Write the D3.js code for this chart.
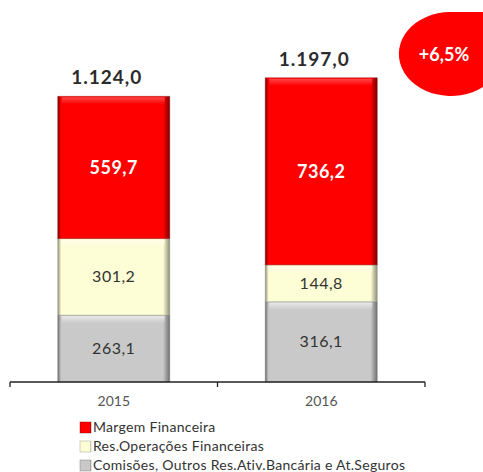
<!DOCTYPE html>
<html>
<head>
<meta charset="utf-8">
<script src="https://cdn.jsdelivr.net/npm/d3@7"></script>
<style>
  body { margin: 0; background: #fff; }
  svg { display: block; font-family: Lato, "Liberation Sans", sans-serif; }
</style>
</head>
<body>
<svg width="483" height="472"></svg>
<script>
const d3 = window.d3

// data
let years = ['2015', '2016']
let seriesNames = [
  'Comisões, Outros Res.Ativ.Bancária e At.Seguros',
  'Res.Operações Financeiras',
  'Margem Financeira'
]
let comissoes = [263.1, 316.1]
let resOperacoes = [301.2, 144.8]
let margem = [559.7, 736.2]
let totals = [1124.0, 1197.0]
let growthLabel = '+6,5%'

let width = 483
let height = 472

let svg = d3.select('svg')
  .attr('width', width)
  .attr('height', height)

let fmt = v => {
  let s = d3.format(',.1f')(v)
  return s.replace(/,/g, 'X').replace('.', ',').replace(/X/g, '.')
}

let rows = years.map((y, i) => ({
  year: y,
  c: comissoes[i],
  r: resOperacoes[i],
  m: margem[i]
}))

let stack = d3.stack().keys(['c', 'r', 'm'])(rows)

let xScale = d3.scaleBand()
  .domain(years)
  .range([10, 425])
  .paddingInner(0.46)
  .paddingOuter(0.23)

let yScale = d3.scaleLinear()
  .domain([0, 1200])
  .range([382, 77])

// colours: base, light edge, dark edge
let colors = {
  c: ['#c9c9c9', '#ececec', '#6e6e6e'],
  r: ['#fdfdd6', '#ffffee', '#8d8d78'],
  m: ['#ff0000', '#ff4d4d', '#7a0000']
}
let labelColor = { c: '#333', r: '#333', m: '#fff' }

let defs = svg.append('defs')
Object.keys(colors).forEach(k => {
  let g = defs.append('linearGradient')
    .attr('id', 'h-' + k)
    .attr('x1', 0).attr('x2', 1).attr('y1', 0).attr('y2', 0)
  g.append('stop').attr('offset', '0%').attr('stop-color', colors[k][2])
  g.append('stop').attr('offset', '3%').attr('stop-color', colors[k][0])
  g.append('stop').attr('offset', '94%').attr('stop-color', colors[k][0])
  g.append('stop').attr('offset', '100%').attr('stop-color', colors[k][2])
  let v = defs.append('linearGradient')
    .attr('id', 'v-' + k)
    .attr('x1', 0).attr('x2', 0).attr('y1', 0).attr('y2', 1)
  v.append('stop').attr('offset', '0%').attr('stop-color', colors[k][1]).attr('stop-opacity', 0.9)
  v.append('stop').attr('offset', '100%').attr('stop-color', colors[k][1]).attr('stop-opacity', 0)
})

let layers = svg.selectAll('g.layer')
  .data(stack)
  .enter()
  .append('g')
    .attr('class', 'layer')

layers.selectAll('rect.seg')
  .data(d => d.map(p => ({ key: d.key, p })))
  .enter()
  .append('rect')
    .attr('class', 'seg')
    .attr('x', d => xScale(d.p.data.year))
    .attr('y', d => yScale(d.p[1]))
    .attr('width', xScale.bandwidth())
    .attr('height', d => yScale(d.p[0]) - yScale(d.p[1]))
    .attr('fill', d => `url(#h-${d.key})`)
    .attr('stroke', d => colors[d.key][2])
    .attr('stroke-opacity', 0.35)
    .attr('stroke-width', 1)

// top highlight of each segment
layers.selectAll('rect.hl')
  .data(d => d.map(p => ({ key: d.key, p })))
  .enter()
  .append('rect')
    .attr('class', 'hl')
    .attr('x', d => xScale(d.p.data.year) + 4)
    .attr('y', d => yScale(d.p[1]) + 1)
    .attr('width', xScale.bandwidth() - 9)
    .attr('height', 7)
    .attr('fill', d => `url(#v-${d.key})`)

// segment labels
layers.selectAll('text')
  .data(d => d.map(p => ({ key: d.key, p })))
  .enter()
  .append('text')
    .attr('x', d => xScale(d.p.data.year) + xScale.bandwidth() / 2)
    .attr('y', d => (yScale(d.p[0]) + yScale(d.p[1])) / 2)
    .attr('dy', '0.35em')
    .style('text-anchor', 'middle')
    .style('font-size', d => d.key === 'm' ? '18px' : '16px')
    .style('font-weight', d => d.key === 'm' ? 'bold' : 'normal')
    .style('letter-spacing', '0.5px')
    .attr('fill', d => labelColor[d.key])
    .text(d => fmt(d.p.data[d.key]))

// totals above bars
svg.selectAll('text.total')
  .data(years)
  .enter()
  .append('text')
    .attr('class', 'total')
    .attr('x', d => xScale(d) + xScale.bandwidth() / 2 - 7)
    .attr('y', (d, i) => yScale(totals[i]) - 12)
    .style('text-anchor', 'middle')
    .style('font-size', '19px')
    .style('font-weight', 'bold')
    .style('letter-spacing', '1px')
    .attr('fill', '#2b2b2b')
    .text((d, i) => fmt(totals[i]))

// x axis
let xAxis = d3.axisBottom(xScale)
  .tickSize(0)
  .tickPadding(14)

let axisG = svg.append('g')
  .attr('transform', `translate(0, ${yScale(0)})`)
  .call(xAxis)
axisG.select('.domain').remove()
axisG.selectAll('text')
  .style('font-size', '14px')
  .style('font-family', 'Lato, "Liberation Sans", sans-serif')
  .attr('fill', '#555')

axisG.append('line')
  .attr('x1', 10).attr('x2', 425)
  .attr('stroke', '#222').attr('stroke-width', 1.3)
axisG.selectAll('line.tk')
  .data([10, 217.5, 425])
  .enter()
  .append('line')
    .attr('class', 'tk')
    .attr('x1', d => d).attr('x2', d => d)
    .attr('y1', 0).attr('y2', 5)
    .attr('stroke', '#222').attr('stroke-width', 1.3)

// legend (same order as reference: top = Margem)
let legendItems = ['m', 'r', 'c']
let legend = svg.append('g')
  .attr('transform', 'translate(80, 427)')

let li = legend.selectAll('g')
  .data(legendItems)
  .enter()
  .append('g')
    .attr('transform', (d, i) => `translate(0, ${i * 19})`)

li.append('rect')
  .attr('x', 0).attr('y', -5)
  .attr('width', 11).attr('height', 11)
  .attr('fill', d => `url(#h-${d})`)
  .attr('stroke', d => colors[d][2])
  .attr('stroke-opacity', 0.4)

li.append('text')
  .attr('x', 13)
  .attr('dy', '0.35em')
  .style('font-size', '14px')
  .style('letter-spacing', '0.3px')
  .attr('fill', '#333')
  .text((d, i) => seriesNames[2 - i])

// growth bubble, top right
svg.append('path')
  .attr('d', 'M483,12 H450 A52,42 0 1 0 483,87 Z')
  .attr('fill', '#ff0000')

svg.append('text')
  .attr('x', 444)
  .attr('y', 55)
  .attr('dy', '0.35em')
  .style('text-anchor', 'middle')
  .style('font-size', '18px')
  .style('font-weight', 'bold')
  .attr('fill', '#fff')
  .text(growthLabel)
</script>
</body>
</html>
